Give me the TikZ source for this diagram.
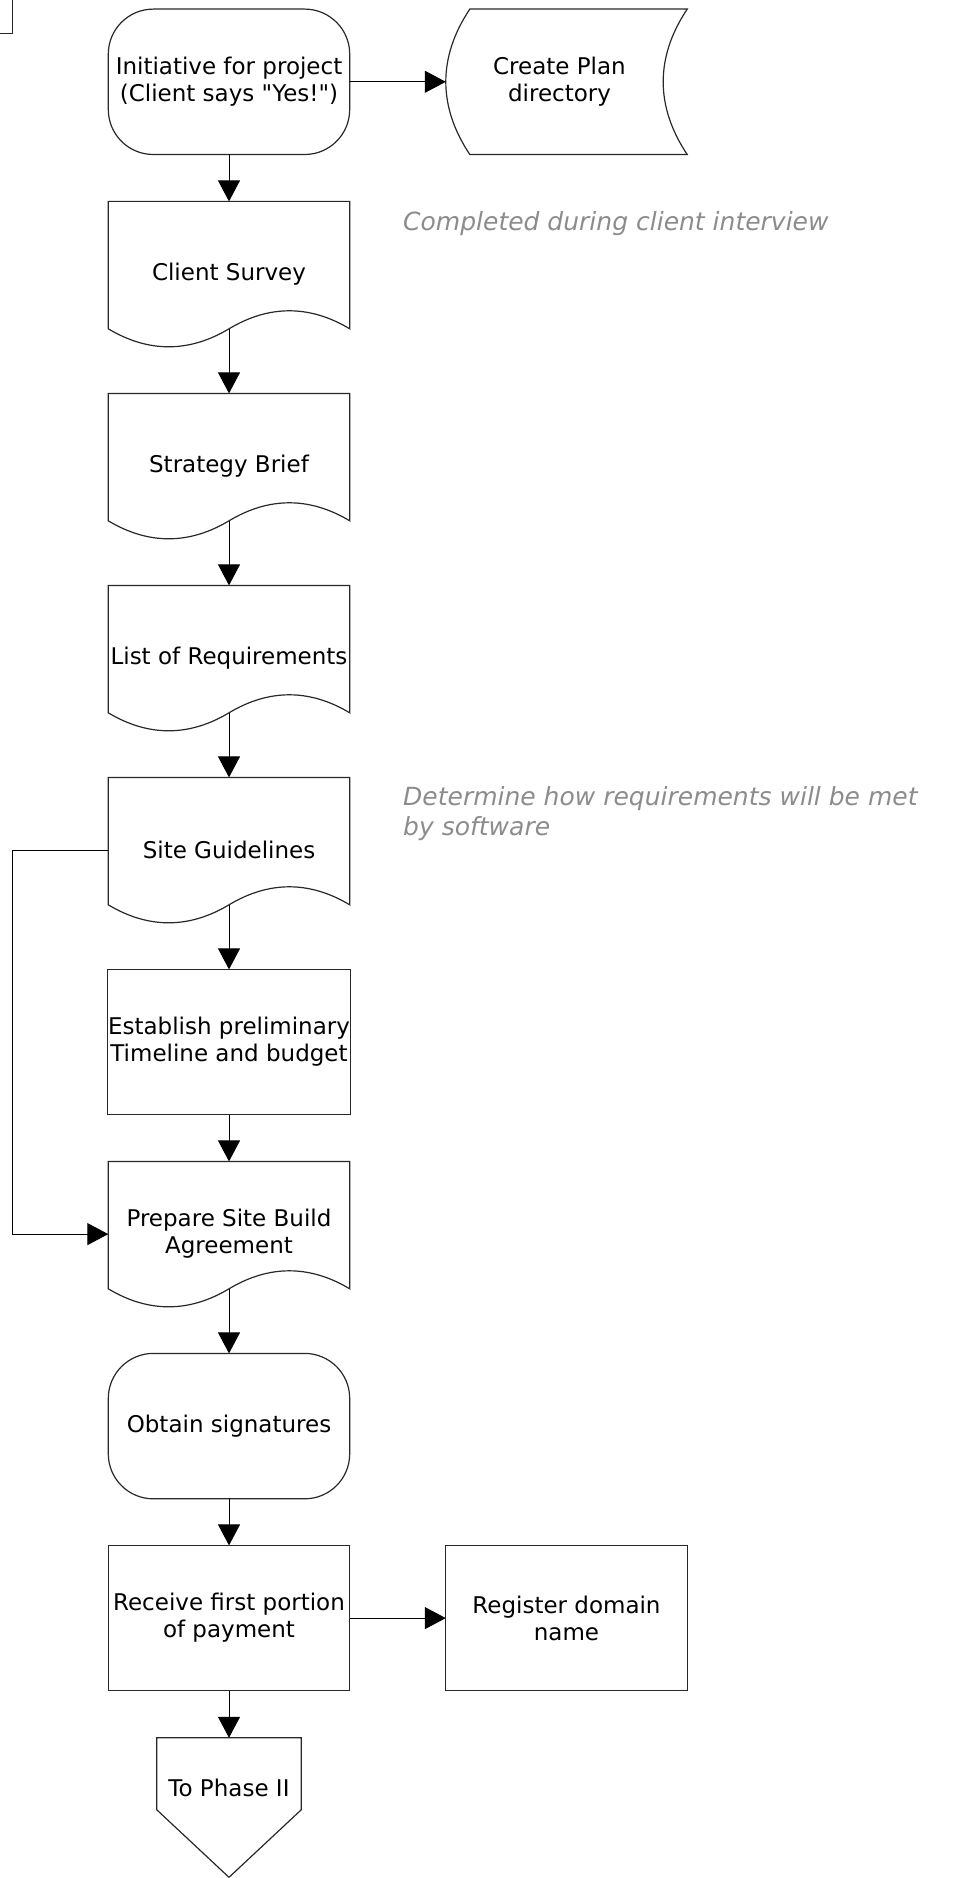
\documentclass[tikz,border=0pt]{standalone}
\usepackage{fontspec}
\setmainfont{DejaVu Sans}[Ligatures=TeXOff]
\usetikzlibrary{arrows.meta,calc}
\definecolor{notegray}{RGB}{140,140,140}
\definecolor{edge}{RGB}{40,40,40}
\newcommand{\boxfont}{\fontsize{23}{27}\selectfont}
\newcommand{\notefont}{\fontsize{25}{30}\selectfont\itshape}
\begin{document}
\begin{tikzpicture}[x=1pt,y=-1pt,
  shapebox/.style={draw=none, minimum width=241pt, minimum height=145pt, inner sep=0pt, align=center, font=\boxfont},
  outline/.style={draw=edge, line width=1.2pt},
  arr/.style={draw=black, line width=1pt, -{Triangle[length=21pt,width=22pt]}},
  note/.style={anchor=north west, inner sep=0pt, align=left, font=\notefont, text=notegray}]
\useasboundingbox (0,0) rectangle (953,1878);

% nodes
\node[shapebox] (init) at (229,81.8) {Initiative for project\\(Client says "Yes!")};
\node[shapebox] (plan) at (566.5,81.8) {\hspace*{-14pt}Create Plan\\\hspace*{-14pt}directory};
\node[shapebox] (survey) at (229,274.1) {Client Survey};
\node[shapebox] (brief) at (229,466.1) {Strategy Brief};
\node[shapebox] (req) at (229,658.1) {List of Requirements};
\node[shapebox] (site) at (229,850.1) {Site Guidelines};
\node[shapebox] (time) at (229,1042.1) {Establish preliminary\\Timeline and budget};
\node[shapebox] (prep) at (229,1234.1) {Prepare Site Build\\Agreement};
\node[shapebox] (sign) at (229,1426.1) {Obtain signatures};
\node[shapebox] (recv) at (229,1618.1) {Receive first portion\\of payment};
\node[shapebox] (reg) at (566.5,1618.1) {Register domain\\name};
\node[shapebox, minimum width=144pt, minimum height=100pt] (phase) at (229,1788) {To Phase II};
\node[draw=edge, line width=1.2pt, minimum width=80pt, minimum height=80pt, anchor=south east] (prev) at (13,34) {};

\node[note] (n1) at (403,211) {Completed during client interview};
\node[note] (n2) at (403,786.5) {Determine how requirements will be met\\by software};

% terminators
\draw[outline, rounded corners=45pt] (init.north west) rectangle (init.south east);
\draw[outline, rounded corners=45pt] (sign.north west) rectangle (sign.south east);
% rectangles
\draw[outline] (time.north west) rectangle (time.south east);
\draw[outline] (recv.north west) rectangle (recv.south east);
\draw[outline] (reg.north west) rectangle (reg.south east);
% stored data
\draw[outline] ($(plan.north west)+(24,0)$) -- (plan.north east)
  .. controls ($(plan.north east)+(-32,48)$) and ($(plan.south east)+(-32,-48)$) .. (plan.south east)
  -- ($(plan.south west)+(24,0)$)
  .. controls ($(plan.south west)+(-8,-48)$) and ($(plan.north west)+(-8,48)$) .. ($(plan.north west)+(24,0)$) -- cycle;
% documents
\foreach \d in {survey,brief,req,site,prep}{
  \coordinate (\d-w) at ($(\d.south)+(0,-18)$);
  \draw[outline] (\d.north west) -- (\d.north east) -- ($(\d.south east)+(0,-18)$)
    .. controls ($(\d.south east)+(-40,-42)$) and ($(\d-w)+(40,-24)$) .. (\d-w)
    .. controls ($(\d-w)+(-40,24)$) and ($(\d.south west)+(40,6)$) .. ($(\d.south west)+(0,-18)$) -- cycle;
}
% off-page connector
\coordinate (phase-l) at ($(phase.north west)+(0,72)$);
\coordinate (phase-r) at ($(phase.north east)+(0,72)$);
\coordinate (phase-tip) at ($(phase.north)+(0,139.5)$);
\draw[outline] (phase.north west) -- (phase-l) -- (phase-tip) -- (phase-r) -- (phase.north east) -- cycle;

% connectors
\draw[arr] (init.east) -- (plan.west);
\draw[arr] (init.south) -- (survey.north);
\draw[arr] (survey-w) -- (brief.north);
\draw[arr] (brief-w) -- (req.north);
\draw[arr] (req-w) -- (site.north);
\draw[arr] (site-w) -- (time.north);
\draw[arr] (time.south) -- (prep.north);
\draw[arr] (prep-w) -- (sign.north);
\draw[arr] (sign.south) -- (recv.north);
\draw[arr] (recv.east) -- (reg.west);
\draw[arr] (recv.south) -- (phase.north);
\draw[arr] (site.west) -- ++(-95.5,0) |- (prep.west);
\end{tikzpicture}
\end{document}
